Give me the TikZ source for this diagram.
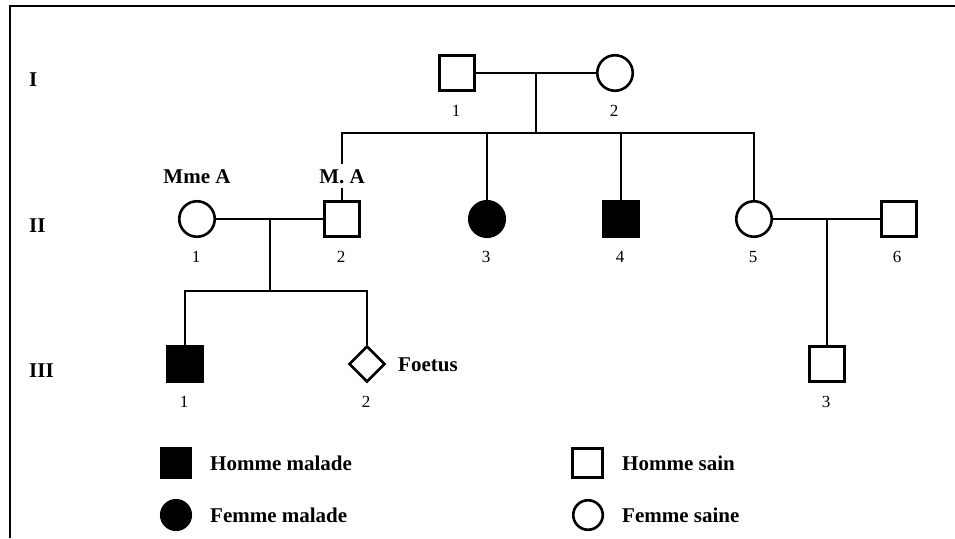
\documentclass[tikz,border=0pt]{standalone}
\usepackage{fontspec}
\setmainfont{Liberation Serif}
\usetikzlibrary{shapes.geometric}
\tikzset{
  lw/.style={line width=2.6pt},
  male/.style={draw, lw, rectangle, minimum size=35.5pt, inner sep=0pt},
  female/.style={draw, lw, circle, minimum size=35.5pt, inner sep=0pt},
  affected/.style={fill=black},
  fetus/.style={draw, lw, diamond, minimum width=36pt, minimum height=36pt, inner sep=0pt},
  legmale/.style={draw, lw, rectangle, minimum size=29.5pt, inner sep=0pt},
  legfemale/.style={draw, lw, circle, minimum size=29.5pt, inner sep=0pt},
  num/.style={anchor=base, inner sep=0pt, font=\fontsize{17}{20}\selectfont},
  bold/.style={inner sep=0pt, font=\fontsize{21}{24}\selectfont\bfseries},
  link/.style={lw},
}
\begin{document}
\begin{tikzpicture}[x=1pt,y=-1pt]
\useasboundingbox (0,0) rectangle (955,538);
\fill[white] (0,0) rectangle (955,538);
% frame
\draw[line width=2.5pt] (10,538) -- (10,6) -- (955,6);

% generation labels
\node[bold, anchor=base west] (gI) at (29,86) {I};
\node[bold, anchor=base west] (gII) at (29,232) {II};
\node[bold, anchor=base west] (gIII) at (29,377) {III};

% generation I
\node[male] (I1) at (457,73) {};
\node[female] (I2) at (615,73) {};
\node[num] (nI1) at (456,116) {1};
\node[num] (nI2) at (614,116) {2};

% generation II
\node[female] (II1) at (197,219) {};
\node[male] (II2) at (342,219) {};
\node[female, affected] (II3) at (487,219) {};
\node[male, affected] (II4) at (621,219) {};
\node[female] (II5) at (754,219) {};
\node[male] (II6) at (899,219) {};
\node[num] (nII1) at (196,262) {1};
\node[num] (nII2) at (341,262) {2};
\node[num] (nII3) at (486,262) {3};
\node[num] (nII4) at (620,262) {4};
\node[num] (nII5) at (753,262) {5};
\node[num] (nII6) at (897,262) {6};

% generation III
\node[male, affected] (III1) at (185,364) {};
\node[fetus] (III2) at (367,364) {};
\node[male] (III3) at (827,364) {};
\node[num] (nIII1) at (184,407) {1};
\node[num] (nIII2) at (366,407) {2};
\node[num] (nIII3) at (826,407) {3};

% coordinates
\coordinate (m1) at (536,73);
\coordinate (s1) at (536,133);
\coordinate (m2) at (270,219);
\coordinate (s2) at (270,291);
\coordinate (m3) at (827,219);

% connectors
\draw[link] (I1.east) -- (I2.west);
\draw[link] (m1) -- (s1);
\draw[link] (II2.north) -- (II2.north |- s1) -- (II5.north |- s1) -- (II5.north);
\draw[link] (II3.north) -- (II3.north |- s1);
\draw[link] (II4.north) -- (II4.north |- s1);

\draw[link] (II1.east) -- (II2.west);
\draw[link] (m2) -- (s2);
\draw[link] (III1.north) -- (III1.north |- s2) -- (III2.north |- s2) -- (III2.north);

\draw[link] (II5.east) -- (II6.west);
\draw[link] (m3) -- (III3.north);

% names
\node[bold, anchor=base] (mmeA) at (197,183) {Mme A};
\node[bold, anchor=base, fill=white, inner xsep=2pt, inner ysep=5pt] (MA) at (342,183) {M. A};
\node[bold, anchor=base west] (foetus) at (398,371) {Foetus};

% legend
\node[legmale, affected] (L1) at (176,463) {};
\node[legfemale, affected] (L2) at (176,515) {};
\node[legmale] (L3) at (587.5,463) {};
\node[legfemale] (L4) at (588,515) {};
\node[bold, anchor=base west] (tL1) at (210,470) {Homme malade};
\node[bold, anchor=base west] (tL2) at (210,522) {Femme malade};
\node[bold, anchor=base west] (tL3) at (622,470) {Homme sain};
\node[bold, anchor=base west] (tL4) at (622,522) {Femme saine};
\end{tikzpicture}
\end{document}
